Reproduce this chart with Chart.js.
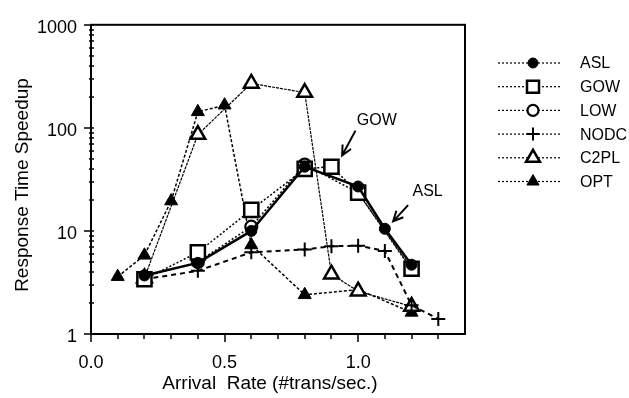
<!DOCTYPE html>
<html>
<head>
<meta charset="utf-8">
<script src="https://cdn.jsdelivr.net/npm/chart.js@4.4.1/dist/chart.umd.min.js"></script>
<style>
  html, body { margin: 0; padding: 0; background: #fff; }
  #wrap { width: 629px; height: 398px; }
</style>
</head>
<body>
<div id="wrap"><canvas id="c" width="629" height="398"></canvas></div>
<script>
// values
const xASL = [0.2, 0.4, 0.6, 0.8, 1.0, 1.1, 1.2];
const ASL = [3.7, 4.9, 10, 42, 27, 10.5, 4.7];
const xGOW = [0.2, 0.4, 0.6, 0.8, 0.9, 1.0, 1.2];
const GOW = [3.4, 6.2, 16, 40, 42, 23.5, 4.3];
const xLOW = [0.2, 0.4, 0.6, 0.8, 1.0, 1.2];
const LOW = [3.6, 5.0, 11, 44, 23.5, 4.2];
const xNODC = [0.2, 0.4, 0.6, 0.8, 0.9, 1.0, 1.1, 1.2, 1.3];
const NODC = [3.4, 4.1, 6.2, 6.6, 7.1, 7.2, 6.4, 1.9, 1.4];
const xC2PL = [0.2, 0.4, 0.6, 0.8, 0.9, 1.0, 1.2];
const C2PL = [3.5, 86, 270, 220, 3.8, 2.6, 1.85];
const xOPT = [0.1, 0.2, 0.3, 0.4, 0.5, 0.6, 0.8, 1.0, 1.2];
const OPT = [3.6, 5.8, 19.5, 143, 166, 7.3, 2.4, 2.7, 1.62];

const yTickValues = [1, 10, 100, 1000];
const xTickValues = [0, 0.5, 1.0];
const xMinorTicks = [0, 0.1, 0.2, 0.3, 0.4, 0.5, 0.6, 0.7, 0.8, 0.9, 1.0, 1.1, 1.2, 1.3];

// callouts: label position and arrow, in data units
const callouts = [
  { text: 'GOW', x: 1.07, y: 118, from: [0.99, 94], to: [0.94, 54] },
  { text: 'ASL', x: 1.26, y: 24, from: [1.187, 17.8], to: [1.131, 12.4] }
];

const FONT = "'Liberation Sans', Arial, Helvetica, sans-serif";
Chart.defaults.font.family = FONT;
Chart.defaults.color = '#000';

const pts = (xs, ys) => xs.map((x, i) => ({ x, y: ys[i] }));

const datasets = [
  { label: 'ASL', data: pts(xASL, ASL), borderColor: '#000', borderWidth: 2.5,
    pointStyle: 'circle', pointRadius: 5.5, pointBackgroundColor: '#000', pointBorderWidth: 1 },
  { label: 'GOW', data: pts(xGOW, GOW), borderColor: '#000', borderWidth: 1.5, borderDash: [2, 2],
    pointStyle: 'rect', pointRadius: 10, pointBackgroundColor: '#fff', pointBorderWidth: 2.5 },
  { label: 'LOW', data: pts(xLOW, LOW), borderColor: '#000', borderWidth: 1.5, borderDash: [2, 2],
    pointStyle: 'circle', pointRadius: 6, pointBackgroundColor: '#fff', pointBorderWidth: 2.2 },
  { label: 'NODC', data: pts(xNODC, NODC), borderColor: '#000', borderWidth: 2, borderDash: [5, 4],
    pointStyle: 'cross', pointRadius: 7, pointBackgroundColor: '#000', pointBorderWidth: 2 },
  { label: 'C2PL', data: pts(xC2PL, C2PL), borderColor: '#000', borderWidth: 1.2, borderDash: [3, 1],
    pointStyle: 'triangle', pointRadius: 8.5, pointBackgroundColor: '#fff', pointBorderWidth: 2.5 },
  { label: 'OPT', data: pts(xOPT, OPT), borderColor: '#000', borderWidth: 1.5, borderDash: [3, 2],
    pointStyle: 'triangle', pointRadius: 7.5, pointBackgroundColor: '#000', pointBorderWidth: 1 }
];
datasets.forEach((d) => { d.pointBorderColor = '#000'; d.tension = 0; d.fill = false; });

const framePlugin = {
  id: 'frame',
  afterDraw(chart) {
    const { ctx, chartArea: a, scales } = chart;
    const xs = scales.x, ys = scales.y;
    ctx.save();
    ctx.strokeStyle = '#000';
    ctx.lineWidth = 2;
    ctx.strokeRect(a.left, a.top, a.right - a.left, a.bottom - a.top);

    // x ticks below the axis
    ctx.lineWidth = 1.5;
    xMinorTicks.forEach((v) => {
      const px = Math.round(xs.getPixelForValue(v));
      const major = xTickValues.some((m) => Math.abs(m - v) < 1e-9);
      ctx.beginPath();
      ctx.moveTo(px, a.bottom);
      ctx.lineTo(px, a.bottom + (major ? 8 : 5));
      ctx.stroke();
    });
    // y ticks: majors poke out, minors straddle the axis
    for (let dec = 1; dec < 1000; dec *= 10) {
      for (let k = 2; k <= 9; k++) {
        const py = Math.round(ys.getPixelForValue(dec * k));
        ctx.beginPath();
        ctx.moveTo(a.left - 2, py);
        ctx.lineTo(a.left + 3, py);
        ctx.stroke();
      }
    }
    yTickValues.forEach((v) => {
      const py = Math.round(ys.getPixelForValue(v));
      ctx.beginPath();
      ctx.moveTo(a.left - 7, py);
      ctx.lineTo(a.left + 3, py);
      ctx.stroke();
    });

    // axis titles
    ctx.fillStyle = '#000';
    ctx.font = '19px ' + FONT;
    ctx.textAlign = 'center';
    ctx.textBaseline = 'middle';
    ctx.fillText('Arrival  Rate (#trans/sec.)', 270, 384);
    ctx.save();
    ctx.translate(23, 185);
    ctx.rotate(-Math.PI / 2);
    ctx.fillText('Response Time Speedup', 0, 0);
    ctx.restore();

    // callouts
    ctx.font = '16px ' + FONT;
    ctx.lineWidth = 2;
    callouts.forEach((c) => {
      ctx.fillText(c.text, xs.getPixelForValue(c.x), ys.getPixelForValue(c.y));
      const x1 = xs.getPixelForValue(c.from[0]), y1 = ys.getPixelForValue(c.from[1]);
      const x2 = xs.getPixelForValue(c.to[0]), y2 = ys.getPixelForValue(c.to[1]);
      const ang = Math.atan2(y2 - y1, x2 - x1);
      ctx.beginPath();
      ctx.moveTo(x1, y1);
      ctx.lineTo(x2, y2);
      ctx.moveTo(x2 - 11 * Math.cos(ang - 0.45), y2 - 11 * Math.sin(ang - 0.45));
      ctx.lineTo(x2, y2);
      ctx.lineTo(x2 - 11 * Math.cos(ang + 0.45), y2 - 11 * Math.sin(ang + 0.45));
      ctx.stroke();
    });

    // legend on the right
    ctx.textAlign = 'left';
    chart.data.datasets.forEach((d, i) => {
      const y = 63 + i * 23.7;
      ctx.save();
      ctx.lineWidth = 1.2;
      ctx.setLineDash([2, 2]);
      ctx.beginPath();
      ctx.moveTo(498, y);
      ctx.lineTo(561, y);
      ctx.stroke();
      ctx.restore();
      ctx.save();
      ctx.fillStyle = d.pointBackgroundColor;
      ctx.strokeStyle = '#000';
      ctx.lineWidth = d.pointBorderWidth;
      Chart.helpers.drawPoint(ctx, {
        pointStyle: d.pointStyle,
        radius: d.pointStyle === 'rect' ? 8.5 : d.pointRadius - 0.5,
        rotation: 0,
        borderWidth: d.pointBorderWidth
      }, 533, y);
      ctx.restore();
      ctx.fillText(d.label, 580, y + 1);
    });
    ctx.restore();
  }
};

new Chart(document.getElementById('c'), {
  type: 'line',
  data: { datasets },
  options: {
    responsive: false,
    animation: false,
    layout: { padding: { left: 0, top: 10, right: 164, bottom: 0 } },
    plugins: { legend: { display: false }, tooltip: { enabled: false } },
    scales: {
      x: {
        type: 'linear', min: 0, max: 1.4,
        afterFit: (s) => { s.height = 64; },
        afterBuildTicks: (s) => { s.ticks = xTickValues.map((v) => ({ value: v })); },
        grid: { display: false, drawTicks: false },
        border: { display: false },
        ticks: { font: { size: 18 }, color: '#000', padding: 18, callback: (v) => v.toFixed(1) }
      },
      y: {
        type: 'logarithmic', min: 1, max: 1000,
        afterFit: (s) => { s.width = 91; },
        afterBuildTicks: (s) => { s.ticks = yTickValues.map((v) => ({ value: v })); },
        grid: { display: false, drawTicks: false },
        border: { display: false },
        ticks: { font: { size: 18 }, color: '#000', padding: 14, labelOffset: 3, callback: (v) => String(v) }
      }
    }
  },
  plugins: [framePlugin]
});
</script>
</body>
</html>
